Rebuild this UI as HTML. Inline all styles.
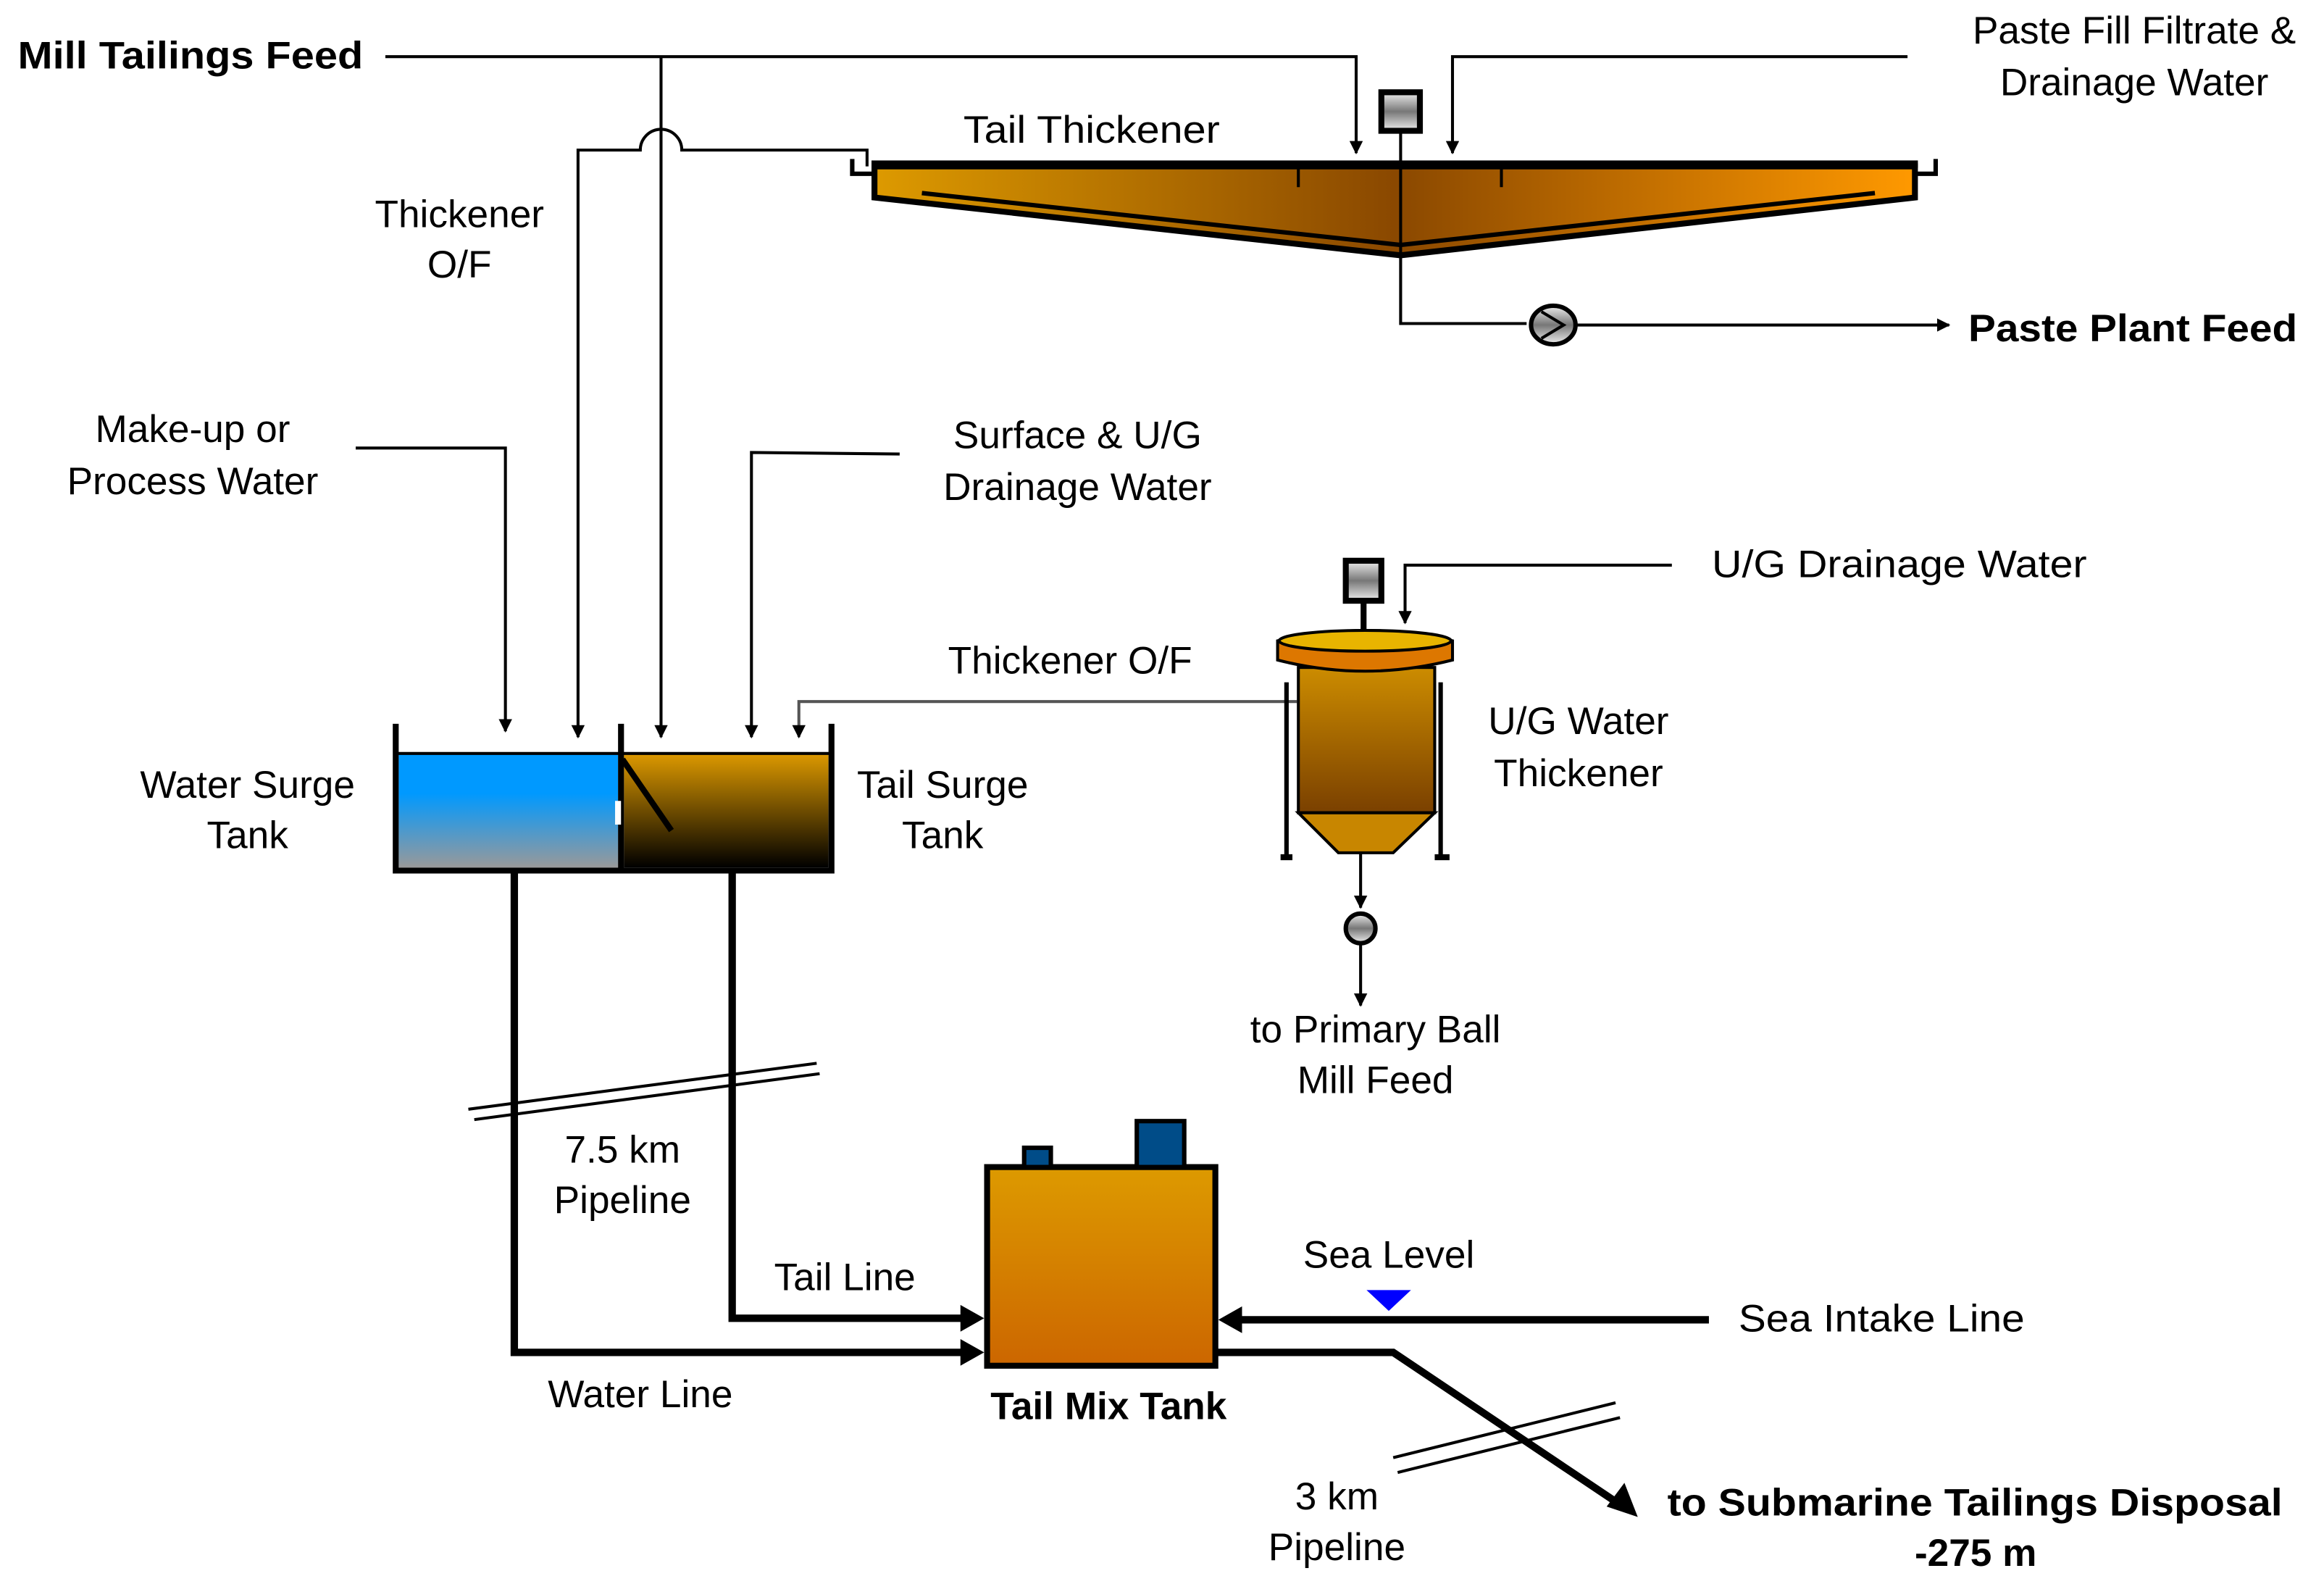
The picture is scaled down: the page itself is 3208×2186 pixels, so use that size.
<!DOCTYPE html>
<html><head><meta charset="utf-8"><style>
html,body{margin:0;padding:0;background:#fff;}
svg{display:block;}
text{font-family:"Liberation Sans",sans-serif;font-size:26px;fill:#000;}
.b{font-weight:bold;}
</style></head><body>
<svg width="3208" height="2186" viewBox="0 0 1568 1068" xmlns="http://www.w3.org/2000/svg">
<defs>
<marker id="a" viewBox="0 0 10 10" refX="9" refY="5" markerWidth="9" markerHeight="9" orient="auto" markerUnits="userSpaceOnUse"><path d="M0,0L10,5L0,10z" fill="#000"/></marker>
<linearGradient id="th" x1="0" x2="1" y1="0" y2="0"><stop offset="0" stop-color="#dd9a00"/><stop offset="0.5" stop-color="#8a4800"/><stop offset="1" stop-color="#ff9900"/></linearGradient>
<linearGradient id="gray" x1="0" x2="0" y1="0" y2="1"><stop offset="0" stop-color="#eee"/><stop offset="0.5" stop-color="#777"/><stop offset="1" stop-color="#eee"/></linearGradient>
<linearGradient id="wat" x1="0" x2="0" y1="0" y2="1"><stop offset="0" stop-color="#0099ff"/><stop offset="0.35" stop-color="#0099ff"/><stop offset="1" stop-color="#999"/></linearGradient>
<linearGradient id="tail" x1="0" x2="0" y1="0" y2="1"><stop offset="0" stop-color="#dd9900"/><stop offset="1" stop-color="#000"/></linearGradient>
<linearGradient id="ug" x1="0" x2="0" y1="0" y2="1"><stop offset="0" stop-color="#cc8c00"/><stop offset="1" stop-color="#7a4000"/></linearGradient>
<linearGradient id="mix" x1="0" x2="0" y1="0" y2="1"><stop offset="0" stop-color="#dd9a00"/><stop offset="1" stop-color="#cc6600"/></linearGradient>
</defs>
<g fill="none" stroke="#000" stroke-width="2">
<path d="M260,38H915V103" marker-end="url(#a)"/>
<path d="M446,38V497" marker-end="url(#a)"/>
<path d="M585,112V101H460A14,14 0 0 0 432,101H390V497" marker-end="url(#a)"/>
<path d="M1287,38H980V103" marker-end="url(#a)"/>
<path d="M240,302H341V493" marker-end="url(#a)"/>
<path d="M607,306L507,305V497" marker-end="url(#a)"/>
<path d="M1128,381H948V420" marker-end="url(#a)"/>
<path d="M875,473H539V497" marker-end="url(#a)" stroke="#555"/>
<path d="M945,172V218H1030"/>
<path d="M1063,219H1315" marker-end="url(#a)"/>
<path d="M918,575V612" marker-end="url(#a)"/>
<path d="M918,636V678" marker-end="url(#a)"/>
</g>
<path d="M590,112H1292V133L945,172L590,133Z" fill="url(#th)" stroke="#000" stroke-width="4"/>
<path d="M622,130L945,165L1265,130" fill="none" stroke="#000" stroke-width="3"/>
<rect x="588" y="108" width="706" height="5" fill="#000"/>
<path d="M575,107V117H590M1306,107V117H1292" fill="none" stroke="#000" stroke-width="3"/>
<path d="M876,112V126M1013,112V126" stroke="#000" stroke-width="2"/>
<line x1="945" y1="88" x2="945" y2="172" stroke="#000" stroke-width="2"/>
<rect x="932" y="62" width="26" height="26" fill="url(#gray)" stroke="#000" stroke-width="4"/>
<ellipse cx="1048" cy="219" rx="15" ry="13" fill="url(#gray)" stroke="#000" stroke-width="3"/>
<path d="M1040,210L1055,219L1040,228" fill="none" stroke="#000" stroke-width="2"/>
<rect x="908" y="378" width="24" height="27" fill="url(#gray)" stroke="#000" stroke-width="4"/>
<line x1="920" y1="405" x2="920" y2="430" stroke="#000" stroke-width="4"/>
<path d="M868,460V578M972,460V578" stroke="#000" stroke-width="3"/>
<path d="M864,578h8M968,578h10" stroke="#000" stroke-width="4"/>
<rect x="876" y="450" width="92" height="98" fill="url(#ug)" stroke="#000" stroke-width="2"/>
<path d="M876,548H968L940,575H903Z" fill="#c88600" stroke="#000" stroke-width="2"/>
<path d="M862,432Q921,418 980,432V445Q921,460 862,445Z" fill="#dd7700" stroke="#000" stroke-width="2"/>
<ellipse cx="921" cy="432" rx="58" ry="7" fill="#e8b400" stroke="#000" stroke-width="2"/>
<circle cx="918" cy="626" r="10" fill="url(#gray)" stroke="#000" stroke-width="3"/>
<rect x="269" y="508" width="148" height="77" fill="url(#wat)"/>
<rect x="421" y="508" width="138" height="77" fill="url(#tail)"/>
<path d="M267,488V587H561V488M419,488V587" fill="none" stroke="#000" stroke-width="4"/>
<path d="M267,508H561" stroke="#000" stroke-width="2"/>
<rect x="415" y="540" width="4" height="16" fill="#fff"/>
<line x1="420" y1="512" x2="453" y2="560" stroke="#000" stroke-width="4"/>
<g fill="none" stroke="#000" stroke-width="5">
<path d="M347,587V912H650"/>
<path d="M494,587V889H650"/>
<path d="M1153,890H836"/>
<path d="M820,912H940L1092,1014"/>
</g>
<path d="M664,889L648,880V898Z M664,912L648,903V921Z M822,890L838,881V899Z M1105,1023L1084,1016L1096,1000Z" fill="#000"/>
<g stroke="#000" stroke-width="2">
<line x1="316" y1="748" x2="551" y2="717"/><line x1="320" y1="755" x2="553" y2="724"/>
<line x1="940" y1="983" x2="1090" y2="946"/><line x1="943" y1="993" x2="1093" y2="956"/>
</g>
<rect x="666" y="787" width="154" height="134" fill="url(#mix)" stroke="#000" stroke-width="4"/>
<rect x="691" y="774" width="18" height="13" fill="#004c88" stroke="#000" stroke-width="3"/>
<rect x="767" y="756" width="32" height="31" fill="#004c88" stroke="#000" stroke-width="3"/>
<path d="M922,870H952L937,884Z" fill="#0000ff"/>
<text x="12" y="46" class="b" textLength="233" lengthAdjust="spacingAndGlyphs">Mill Tailings Feed</text>
<text x="1440" y="29" text-anchor="middle">Paste Fill Filtrate &amp;</text>
<text x="1440" y="64" text-anchor="middle">Drainage Water</text>
<text x="650" y="96" textLength="173" lengthAdjust="spacingAndGlyphs">Tail Thickener</text>
<text x="310" y="153" text-anchor="middle">Thickener</text>
<text x="310" y="187" text-anchor="middle">O/F</text>
<text x="1328" y="230" class="b" textLength="222" lengthAdjust="spacingAndGlyphs">Paste Plant Feed</text>
<text x="130" y="298" text-anchor="middle">Make-up or</text>
<text x="130" y="333" text-anchor="middle">Process  Water</text>
<text x="727" y="302" text-anchor="middle">Surface &amp; U/G</text>
<text x="727" y="337" text-anchor="middle">Drainage Water</text>
<text x="1155" y="389" textLength="253" lengthAdjust="spacingAndGlyphs">U/G Drainage Water</text>
<text x="722" y="454" text-anchor="middle">Thickener O/F</text>
<text x="1065" y="495" text-anchor="middle">U/G Water</text>
<text x="1065" y="530" text-anchor="middle">Thickener</text>
<text x="167" y="538" text-anchor="middle">Water Surge</text>
<text x="167" y="572" text-anchor="middle">Tank</text>
<text x="636" y="538" text-anchor="middle">Tail Surge</text>
<text x="636" y="572" text-anchor="middle">Tank</text>
<text x="928" y="703" text-anchor="middle">to Primary Ball</text>
<text x="928" y="737" text-anchor="middle">Mill Feed</text>
<text x="420" y="784" text-anchor="middle">7.5 km</text>
<text x="420" y="818" text-anchor="middle">Pipeline</text>
<text x="937" y="855" text-anchor="middle">Sea Level</text>
<text x="570" y="870" text-anchor="middle">Tail Line</text>
<text x="1173" y="898" textLength="193" lengthAdjust="spacingAndGlyphs">Sea Intake Line</text>
<text x="432" y="949" text-anchor="middle">Water Line</text>
<text x="748" y="957" text-anchor="middle" class="b">Tail Mix Tank</text>
<text x="902" y="1018" text-anchor="middle">3 km</text>
<text x="902" y="1052" text-anchor="middle">Pipeline</text>
<text x="1125" y="1022" class="b" textLength="415" lengthAdjust="spacingAndGlyphs">to Submarine Tailings Disposal</text>
<text x="1333" y="1056" class="b" text-anchor="middle">-275 m</text>
</svg>
</body></html>
